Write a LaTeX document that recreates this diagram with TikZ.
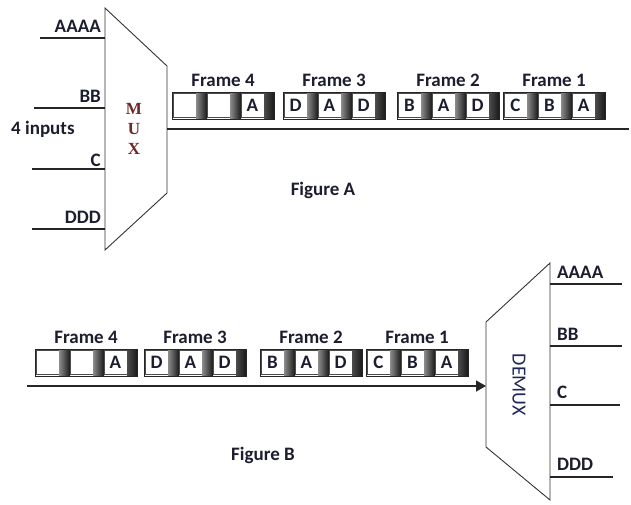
\documentclass[tikz,border=0pt]{standalone}
\usepackage{fontspec}
\setmainfont{Carlito}
\newfontfamily\muxserif{Liberation Serif}
\usetikzlibrary{arrows.meta}
\definecolor{txt}{RGB}{28,30,48}
\definecolor{muxred}{RGB}{110,40,38}
\definecolor{demuxblue}{RGB}{30,40,90}
\tikzset{
  wire/.style={line width=1.3pt, draw=black!85},
  body/.style={line width=0.9pt, draw=black!80},
  lbl/.style={font=\bfseries\fontsize{19}{22}\selectfont, text=txt, inner sep=0pt},
  muxletter/.style={font=\muxserif\bfseries\fontsize{17}{20}\selectfont, text=muxred, inner sep=0pt},
  framebox/.style={draw=black!85, line width=0.8pt, minimum width=102pt, minimum height=27pt, inner sep=0pt},
  cellw/.style={draw=black!70, line width=0.5pt, fill=white, minimum width=23pt, minimum height=24pt, inner sep=0pt, font=\bfseries\fontsize{19}{22}\selectfont, text=txt},
  celld/.style={left color=black!45, right color=black!90, minimum height=25pt, inner sep=0pt},
}
\newcommand{\tdmframe}[7]{%
  \node[framebox] (#1) at ({#2+51},{#3+13.5}) {};
  \node[cellw] (#1a) at ({#2+12.5},{#3+13.5}) {#5};
  \node[celld, minimum width=11pt] (#1s) at ({#2+29.5},{#3+13.5}) {};
  \node[cellw] (#1b) at ({#2+46.5},{#3+13.5}) {#6};
  \node[celld, minimum width=11pt] (#1t) at ({#2+63.5},{#3+13.5}) {};
  \node[cellw] (#1c) at ({#2+80.5},{#3+13.5}) {#7};
  \node[celld, minimum width=10pt, left color=black!70] (#1u) at ({#2+97},{#3+13.5}) {};
  \node[lbl] (#1l) at ({#2+51},{#3-12}) {#4};
}
\begin{document}
\begin{tikzpicture}[x=1pt,y=-1pt]
\useasboundingbox (0,0) rectangle (631,504);
% ---------- Figure A : MUX ----------
\coordinate (mTL) at (105,8);
\coordinate (mTR) at (167,66);
\coordinate (mBR) at (167,193);
\coordinate (mBL) at (105,250);
\draw[body] (mTL) -- (mTR) -- (mBR) -- (mBL) -- cycle;
\coordinate (iA0) at (40,38);  \coordinate (iA1) at (105,38);
\coordinate (iB0) at (34,108); \coordinate (iB1) at (105,108);
\coordinate (iC0) at (32,169); \coordinate (iC1) at (105,169);
\coordinate (iD0) at (32,229); \coordinate (iD1) at (105,229);
\draw[wire] (iA0) -- (iA1);
\draw[wire] (iB0) -- (iB1);
\draw[wire] (iC0) -- (iC1);
\draw[wire] (iD0) -- (iD1);
\node[lbl, anchor=base east] (lA) at (101,32) {AAAA};
\node[lbl, anchor=base east] (lB) at (101,102) {BB};
\node[lbl, anchor=base west] (l4) at (11,134) {4 inputs};
\node[lbl, anchor=base east] (lC) at (101,166) {C};
\node[lbl, anchor=base east] (lD) at (101,223) {DDD};
\node[muxletter] (mM) at (134,109) {M};
\node[muxletter] (mU) at (134,129) {U};
\node[muxletter] (mX) at (134,149) {X};
\coordinate (mOut) at (167,129);
\coordinate (mEnd) at (629,129);
\draw[wire] (mOut) -- (mEnd);
\tdmframe{a4}{172}{92}{Frame 4}{}{}{A}
\tdmframe{a3}{283}{92}{Frame 3}{D}{A}{D}
\tdmframe{a2}{397}{92}{Frame 2}{B}{A}{D}
\tdmframe{a1}{503}{92}{Frame 1}{C}{B}{A}
\node[lbl] (figA) at (323,190) {Figure A};
% ---------- Figure B : DEMUX ----------
\coordinate (dTL) at (486,322);
\coordinate (dTR) at (550,263);
\coordinate (dBR) at (550,500);
\coordinate (dBL) at (486,447);
\draw[body] (dTL) -- (dTR) -- (dBR) -- (dBL) -- cycle;
\coordinate (oA0) at (550,284); \coordinate (oA1) at (622,284);
\coordinate (oB0) at (550,346); \coordinate (oB1) at (622,346);
\coordinate (oC0) at (550,405); \coordinate (oC1) at (620,405);
\coordinate (oD0) at (550,477); \coordinate (oD1) at (613,477);
\draw[wire] (oA0) -- (oA1);
\draw[wire] (oB0) -- (oB1);
\draw[wire] (oC0) -- (oC1);
\draw[wire] (oD0) -- (oD1);
\node[lbl, anchor=base west] (rA) at (557,278) {AAAA};
\node[lbl, anchor=base west] (rB) at (557,340) {BB};
\node[lbl, anchor=base west] (rC) at (557,398) {C};
\node[lbl, anchor=base west] (rD) at (557,470) {DDD};
\node[rotate=-90, font=\fontsize{20}{22}\selectfont, text=demuxblue, inner sep=0pt] (dmx) at (519,385) {DEMUX};
\coordinate (bStart) at (27,386);
\coordinate (dIn) at (486,386);
\draw[wire, -{Triangle[length=10pt,width=11pt]}] (bStart) -- (dIn);
\tdmframe{b4}{35}{349}{Frame 4}{}{}{A}
\tdmframe{b3}{144}{349}{Frame 3}{D}{A}{D}
\tdmframe{b2}{260}{349}{Frame 2}{B}{A}{D}
\tdmframe{b1}{366}{349}{Frame 1}{C}{B}{A}
\node[lbl] (figB) at (263,455) {Figure B};
\end{tikzpicture}
\end{document}
